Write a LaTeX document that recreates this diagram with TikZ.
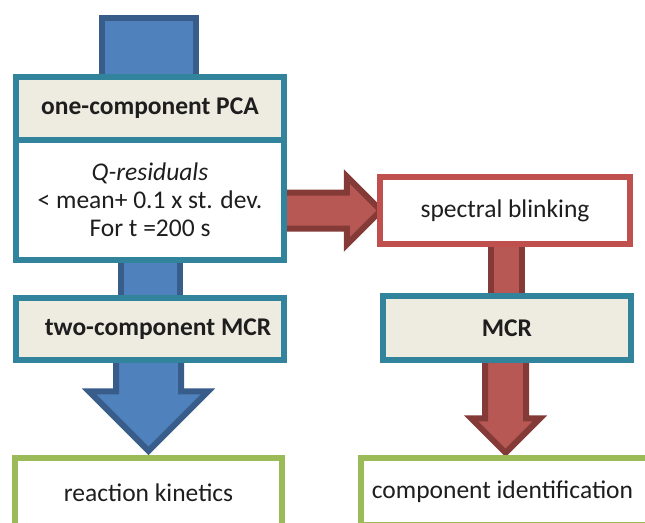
\documentclass[tikz,border=0pt]{standalone}
\usepackage{fontspec}
\setmainfont{Carlito}
\usetikzlibrary{shapes.arrows,backgrounds}

\definecolor{tealline}{RGB}{49,132,155}
\definecolor{beige}{RGB}{238,236,225}
\definecolor{bluefill}{RGB}{79,129,189}
\definecolor{blueline}{RGB}{56,93,138}
\definecolor{redfill}{RGB}{184,88,84}
\definecolor{redline}{RGB}{132,58,55}
\definecolor{redbox}{RGB}{192,80,77}
\definecolor{greenline}{RGB}{155,187,89}
\definecolor{textgray}{RGB}{30,30,30}

\begin{document}
\begin{tikzpicture}[x=1pt, y=-1pt,
  box/.style={draw=tealline, line width=6pt, fill=white, inner sep=0pt,
    text=textgray, align=center, font=\fontsize{25.5}{28}\selectfont},
  headbox/.style={box, fill=beige, font=\fontsize{25.5}{28}\selectfont\bfseries},
  redframe/.style={box, draw=redbox},
  greenframe/.style={box, draw=greenline},
  blueshaft/.style={draw=blueline, fill=bluefill, line width=6pt, inner sep=0pt},
  redshaft/.style={draw=redline, fill=redfill, line width=6pt, inner sep=0pt},
  bluearrow/.style={single arrow, blueshaft, single arrow head indent=0pt},
  redarrow/.style={single arrow, redshaft, single arrow head indent=0pt}
]
\clip (0,0) rectangle (645,522);

% Linke Spalte
\node[box, minimum width=268pt, minimum height=120pt] (qres) at (150,200)
  {\textit{Q-residuals}\\< mean+ 0.1 x st. dev.\\For t =200 s};
\node[headbox, minimum width=268pt, minimum height=63pt] (pca) at (150,108.5) {one-component PCA};
\node[headbox, minimum width=268pt, minimum height=62pt] (mcrtwo) at (150,329)
  {\hspace*{16pt}two-component MCR};
\node[greenframe, minimum width=267pt, minimum height=70pt] (kin) at (148.5,493) {reaction kinetics};

% Rechte Spalte
\node[redframe, minimum width=250pt, minimum height=67pt] (blink) at (505,210.5) {spectral blinking};
\node[headbox, minimum width=248pt, minimum height=64pt] (mcr) at (507,328) {MCR};
\node[greenframe, minimum width=289pt, minimum height=67pt] (ident) at (505.5,491.5)
  {\hspace*{-6pt}component identification};

% Pfeile hinter den Kaesten
\begin{scope}[on background layer]
\fill[white] (0,0) rectangle (645,522);
\node[blueshaft, minimum width=94pt, minimum height=140pt] (feed) at (149,88) {};
\node[blueshaft, minimum width=59pt, minimum height=60pt] (link) at (150.5,278) {};
\node[bluearrow, shape border rotate=270, anchor=tip,
      inner xsep=29.5pt, minimum height=115pt,
      single arrow head extend=27pt] (tokin) at (kin.north) {};

\node[redarrow, anchor=tip,
      inner ysep=15pt, minimum height=125pt,
      single arrow head extend=16pt] (toblink) at ([xshift=8pt]blink.west) {};
\node[redshaft, minimum width=31pt, minimum height=60pt] (rlink) at (506.5,270) {};
\node[redarrow, shape border rotate=270, anchor=tip,
      inner xsep=17.5pt, minimum height=115pt,
      single arrow head extend=14pt] (toident) at ([yshift=-2pt]ident.north) {};
\end{scope}

\end{tikzpicture}
\end{document}
